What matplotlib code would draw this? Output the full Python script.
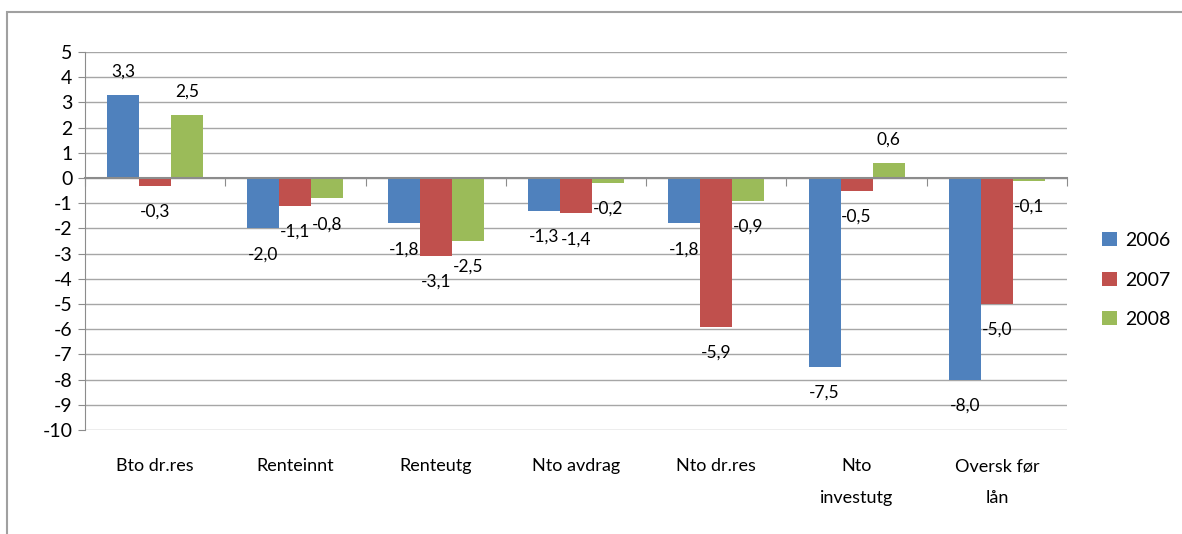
import matplotlib
matplotlib.use("Agg")
import matplotlib.pyplot as plt
from matplotlib.patches import Rectangle, Patch
import matplotlib.transforms as mtransforms
import numpy as np

categories = ["Bto dr.res", "Renteinnt", "Renteutg", "Nto avdrag", "Nto dr.res", "Nto\ninvestutg", "Oversk før\nlån"]
years = ["2006", "2007", "2008"]
v2006 = [3.3, -2.0, -1.8, -1.3, -1.8, -7.5, -8.0]
v2007 = [-0.3, -1.1, -3.1, -1.4, -5.9, -0.5, -5.0]
v2008 = [2.5, -0.8, -2.5, -0.2, -0.9, 0.6, -0.1]
yticks = list(range(-10, 6))

colors = ["#4F81BD", "#C0504D", "#9BBB59"]
FONT = ["Lato", "DejaVu Sans"]
plt.rcParams['font.family'] = FONT

fig = plt.figure(figsize=(11.82, 5.34), dpi=100)
ax = fig.add_axes([85/1182, 1-430/534, (1067-85)/1182, (430-52)/534])

# outer frame
fig.patches.append(Rectangle((7/1182, -0.1), 1.2, 1-12/534+0.1, transform=fig.transFigure,
                             fill=False, edgecolor="#A0A0A0", linewidth=1.5, zorder=0))

x = np.arange(len(categories))
w = 0.228
series = [v2006, v2007, v2008]
for i, (vals, c) in enumerate(zip(series, colors)):
    xs = x + (i - 1) * w
    ax.bar(xs, vals, width=w, color=c, zorder=3)
    for xi, v in zip(xs, vals):
        lab = f"{v:.1f}".replace(".", ",")
        off = 23 if v >= 0 else -26
        ax.annotate(lab, (xi, v), xytext=(0, off), textcoords="offset pixels",
                    ha="center", va="center", fontsize=12.5, color="black", zorder=5)

ax.set_ylim(-10, 5)
ax.set_xlim(-0.5, len(categories) - 0.5)
ax.set_yticks(yticks)
ax.set_yticklabels([str(t) for t in yticks], fontsize=14)
ax.grid(axis="y", color="#A6A6A6", linewidth=1.0, zorder=0)
ax.set_axisbelow(True)

for s in ["top", "right"]:
    ax.spines[s].set_visible(False)
ax.spines["left"].set_color("#8C8C8C")
ax.spines["bottom"].set_position(("data", 0))
ax.spines["bottom"].set_color("#8C8C8C")
ax.spines["bottom"].set_linewidth(1.5)
ax.spines["bottom"].set_zorder(4)
ax.set_xticks(np.arange(len(categories) + 1) - 0.5)
ax.set_xticklabels([])
ax.tick_params(axis="x", length=6, color="#8C8C8C", direction="out")
ax.tick_params(axis="y", length=5, color="#8C8C8C", pad=4)

cat_tr = ax.transData + mtransforms.ScaledTranslation(0, -28/100, fig.dpi_scale_trans)
for xi, cat in zip(x, categories):
    ax.text(xi, -10, cat, transform=cat_tr, ha="center", va="top",
            fontsize=13, linespacing=2.2)

handles = [Patch(facecolor=c, edgecolor="none") for c in colors]
fig.legend(handles, years, loc="center left", bbox_to_anchor=(1102/1182, 1-280/534),
           frameon=False, fontsize=14, handlelength=0.75, handleheight=0.75,
           labelspacing=1.15, handletextpad=0.45, borderpad=0, borderaxespad=0)

fig.savefig("out.png", dpi=100)
